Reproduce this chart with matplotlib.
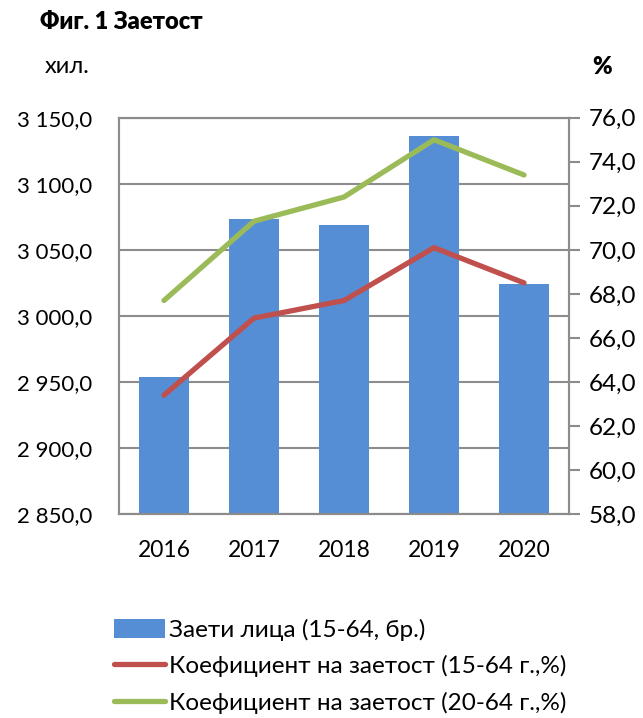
import numpy as np
import matplotlib
matplotlib.use("Agg")
import matplotlib.pyplot as plt
from matplotlib.ticker import FuncFormatter

plt.rcParams['font.family'] = ['Lato', 'DejaVu Sans']

# данни
years = ["2016", "2017", "2018", "2019", "2020"]
employed = [2954.0, 3073.0, 3068.5, 3136.0, 3024.0]
rate_15_64 = [63.4, 66.9, 67.7, 70.1, 68.5]
rate_20_64 = [67.7, 71.3, 72.4, 75.0, 73.4]

left_ticks = [2850, 2900, 2950, 3000, 3050, 3100, 3150]
right_ticks = [58, 60, 62, 64, 66, 68, 70, 72, 74, 76]

labels = ["Заети лица (15-64, бр.)",
          "Коефициент на заетост (15-64 г.,%)",
          "Коефициент на заетост (20-64 г.,%)"]

c_bar = "#558ED5"
c_red = "#C0504D"
c_green = "#9BBB59"
c_grid = "#8C8C8C"


def fmt_left(v, pos):
    s = f"{v:,.1f}".replace(",", " ").replace(".", ",")
    return s


def fmt_right(v, pos):
    return f"{v:.1f}".replace(".", ",")


fig = plt.figure(figsize=(6.43, 7.18), dpi=100)
ax = fig.add_axes([0.185, 0.284, 0.700, 0.552])
x = np.arange(len(years))

ax.bar(x, employed, width=0.56, color=c_bar, zorder=2, label=labels[0])
ax.set_ylim(2850, 3150)
ax.set_xlim(-0.5, len(years) - 0.5)
ax.set_yticks(left_ticks)
ax.yaxis.set_major_formatter(FuncFormatter(fmt_left))
ax.grid(axis="y", color=c_grid, linewidth=1.5, zorder=0)
ax.set_axisbelow(True)
ax.set_xticks(x)
ax.set_xticklabels(years)
ax.tick_params(axis="x", length=0, pad=19, labelsize=16.5)
ax.tick_params(axis="y", length=0, pad=19, labelsize=16)
for s in ax.spines.values():
    s.set_color(c_grid)
    s.set_linewidth(1.5)

ax2 = ax.twinx()
ax2.plot(x, rate_15_64, color=c_red, linewidth=3.8, solid_capstyle="round", label=labels[1])
ax2.plot(x, rate_20_64, color=c_green, linewidth=3.8, solid_capstyle="round", label=labels[2])
ax2.set_ylim(58, 76)
ax2.set_yticks(right_ticks)
ax2.yaxis.set_major_formatter(FuncFormatter(fmt_right))
ax2.tick_params(axis="y", direction="out", length=8, width=1.5, color=c_grid, pad=6, labelsize=17.5)
for s in ax2.spines.values():
    s.set_color(c_grid)
    s.set_linewidth(1.5)

fig.text(0.062, 0.969, "Фиг. 1 Заетост", fontsize=17, fontweight="heavy", va="center")
fig.text(0.07, 0.908, "хил.", fontsize=17, va="center")
fig.text(0.921, 0.906, "%", fontsize=17, fontweight="heavy", va="center")

h1, l1 = ax.get_legend_handles_labels()
h2, l2 = ax2.get_legend_handles_labels()
fig.legend(h1 + h2, l1 + l2, loc="upper left", bbox_to_anchor=(0.162, 0.152),
           frameon=False, fontsize=17.5, handlelength=2.1, handleheight=0.8,
           handletextpad=0.15, labelspacing=0.6, borderaxespad=0)

fig.savefig("out.png", dpi=100)
